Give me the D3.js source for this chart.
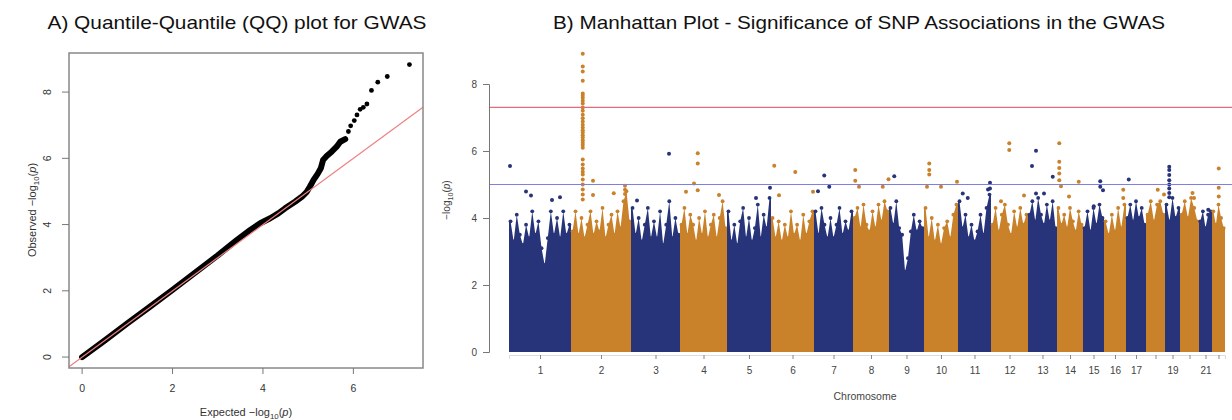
<!DOCTYPE html>
<html>
<head>
<meta charset="utf-8">
<style>
body{
    margin: 0;
    background: #fff;
}
svg{ display: block; }
text{
    font-family: "Liberation Sans", Arial, sans-serif;
}
</style>
</head>
<body>
<svg id="chart" width="1232" height="420"></svg>

<script src="https://cdn.jsdelivr.net/npm/d3@7"></script>
<script>
// ---------- data ----------
// QQ plot: dense band of points (expected, observed -log10 p)
var qqBand = [[0,0],[0.5,0.5],[1,1.02],[1.5,1.52],[2,2.03],[2.5,2.55],[3,3.07],[3.42,3.53],
    [3.72,3.84],[3.94,4.04],[4.16,4.19],[4.34,4.34],[4.49,4.49],[4.6,4.59],[4.71,4.69],
    [4.86,4.84],[4.97,4.99],[5.04,5.15],[5.12,5.35],[5.21,5.53],[5.28,5.7],[5.33,5.95],
    [5.41,6.07],[5.52,6.2],[5.63,6.35],[5.71,6.5],[5.82,6.58]];
// QQ plot: individual points in the upper tail
var qqTail = [[4.97,4.99],[5.04,5.15],[5.12,5.35],[5.21,5.53],[5.28,5.7],[5.33,5.95],[5.41,6.07],
    [5.52,6.2],[5.63,6.35],[5.71,6.5],[5.82,6.58],[5.89,6.81],[5.94,6.98],[6.02,7.14],
    [6.08,7.31],[6.15,7.48],[6.22,7.54],[6.3,7.64],[6.4,8.05],[6.54,8.3],[6.75,8.47],[7.24,8.83]];
var qqTicksX = [0, 2, 4, 6];
var qqTicksY = [0, 2, 4, 6, 8];

// Manhattan plot
var chromosomes = ["1","2","3","4","5","6","7","8","9","10","11","12","13","14","15","16","17","18","19","20","21","22"];
var chrLabels   = ["1","2","3","4","5","6","7","8","9","10","11","12","13","14","15","16","17","","19","","21",""];
// span of genotyped SNPs per chromosome (Mb)
var chrLength = [248,240,196,188,176,172,156,144,140,136,132,148,116,104,84,88,80,76,60,76,52,52];
// upper edge of the dense cloud of SNPs along each chromosome (-log10 p)
var chrTop = [
    [3.9,3.3,4.1,3.5,3.2,3.8,3.4,4.2,3.5,3.9,3.1,2.6,3.4,4.2,3.5,4.0,3.4,4.2,3.5,3.8],
    [3.6,4.2,3.5,4.0,3.4,3.8,4.2,3.5,3.9,3.6,4.3,3.4,3.8,4.1,3.5,4.2,3.7,4.5,4.8,3.9],
    [4.3,3.5,4.0,3.3,3.8,4.3,3.4,3.9,3.4,4.2,3.2,3.8,4.5,3.4,4.0,3.5],
    [3.8,4.3,3.5,4.1,3.8,3.3,4.0,3.5,4.2,3.4,3.8,4.1,3.4,4.0,4.5,3.7],
    [4.2,3.3,3.8,3.2,3.9,4.3,3.4,4.0,3.3,3.7,4.4,3.4,4.1,3.7,4.6],
    [4.0,3.4,3.9,3.3,3.8,3.4,4.2,3.5,3.8,3.3,4.1,3.5,3.9,4.2],
    [4.2,3.5,4.3,3.8,3.4,4.0,3.4,3.8,4.3,3.5,3.9,3.6,4.2],
    [4.0,4.3,3.7,4.4,3.8,3.6,4.2,3.7,4.4,3.9,4.5,4.2],
    [4.3,3.8,4.5,3.7,3.5,2.4,2.8,3.6,4.1,3.6,3.9,3.7],
    [4.3,3.4,4.0,3.3,3.8,3.2,3.7,3.9,3.4,4.1,4.4],
    [4.5,3.7,4.1,3.4,3.8,3.3,3.6,4.1,3.5,4.3,4.7],
    [3.8,4.3,3.6,4.1,4.4,3.8,3.5,4.2,3.7,4.3,3.8,4.1],
    [4.1,4.5,3.9,4.6,4.1,3.8,4.4,3.9,4.5,3.7],
    [4.3,3.8,4.1,3.7,4.3,3.9,3.6,4.2,3.8],
    [3.7,4.2,3.6,4.3,3.8,4.4,4.0],
    [3.9,3.5,4.1,3.6,4.3,3.7,4.4],
    [4.0,4.4,3.9,4.5,4.0,4.3,3.8],
    [4.1,4.5,3.9,4.4,4.5,4.1],
    [4.4,3.9,4.6,4.0,4.3],
    [4.1,4.5,4.0,4.6,4.3,3.9],
    [3.9,4.2,3.7,4.1,4.2],
    [4.2,3.8,4.4,4.0,3.7]
];
// SNPs standing out above the cloud: [chromosome index, position (Mb), -log10 p]
var topSnps = [
    [0,4,5.55],[0,68,4.79],[0,88,4.67],[0,172,4.54],[0,204,4.62],
    [1,47,8.9],[1,47,8.52],[1,47,8.37],[1,47,8.1],[1,47,7.72],[1,47,7.65],[1,47,7.58],[1,47,7.5],
    [1,47,7.42],[1,47,7.3],[1,47,7.2],[1,47,7.08],[1,47,6.98],[1,47,6.88],[1,47,6.78],[1,47,6.7],
    [1,47,6.62],[1,47,6.55],[1,47,6.47],[1,47,6.4],[1,47,6.32],[1,47,6.25],[1,47,6.18],[1,47,6.1],
    [1,47,5.75],[1,47,5.6],[1,47,5.48],[1,47,5.38],[1,47,5.3],[1,47,5.15],[1,47,5.0],[1,47,4.85],
    [1,47,4.7],[1,47,4.55],
    [1,88,5.11],[1,88,4.69],[1,171,4.74],[1,216,4.96],[1,216,4.84],[1,216,4.72],
    [2,152,5.92],[2,24,4.52],
    [3,71,5.93],[3,71,5.63],[3,56,5.03],[3,71,4.83],[3,24,4.78],[3,156,4.69],
    [4,116,4.6],[4,172,4.9],
    [5,13,5.56],[5,97,5.37],[5,32,4.68],[5,168,4.78],
    [6,41,5.27],[6,61,4.93],[6,16,4.8],
    [7,9,5.43],[7,9,5.11],[7,24,4.93],[7,119,4.93],[7,142,5.16],
    [8,21,5.25],
    [9,21,5.63],[9,21,5.43],[9,21,5.3],[9,12,4.93],[9,68,4.93],[9,132,5.08],
    [10,19,4.73],[10,39,4.6],[10,128,5.05],[10,128,4.88],[10,120,4.85],
    [11,73,6.23],[11,73,6.03],[11,132,4.67],[11,40,4.5],
    [12,32,6.01],[12,16,5.55],[12,99,5.23],[12,32,4.73],[12,64,4.73],
    [13,9,6.23],[13,9,5.68],[13,9,5.49],[13,9,5.33],[13,9,5.13],[13,16,4.95],[13,87,5.08],[13,48,4.64],
    [14,69,5.1],[14,69,4.93],[14,80,4.83],[14,43,4.35],
    [15,77,4.84],[15,77,4.6],
    [16,11,5.15],
    [17,47,4.84],[17,72,4.7],
    [18,17,5.53],[18,17,5.43],[18,17,5.28],[18,17,5.13],[18,17,5.0],[18,17,4.88],[18,17,4.75],[18,17,4.62],
    [19,50,4.75],[19,56,4.6],
    [20,37,4.25],
    [21,27,5.48],[21,27,4.9],[21,27,4.64]
];
var genomeWide = 7.3;   // 5e-8
var suggestive = 5;     // 1e-5
var mhTicksY = [0, 2, 4, 6, 8];

var navy = '#27347A';
var orange = '#C9812A';

var svg = d3.select('#chart');
svg.append('rect').attr('width', 1232).attr('height', 420).attr('fill', '#fff');

// small helper for "<prefix>-log10(p)" axis titles
function logLabel(sel, prefix, size) {
    sel.append('tspan').text(prefix + '\u2212log');
    sel.append('tspan').attr('font-size', (size * 0.72) + 'px').attr('dy', 3).text('10');
    sel.append('tspan').attr('dy', -3).text('(');
    sel.append('tspan').attr('font-style', 'italic').text('p');
    sel.append('tspan').text(')');
}

// ---------- A) QQ plot ----------
function qqPlot() {
    var x = d3.scaleLinear().domain([-0.29, 7.54]).range([69, 423]);
    var y = d3.scaleLinear().domain([-0.33, 9.18]).range([368, 53]);

    svg.append('text')
        .attr('x', 237).attr('y', 29)
        .attr('text-anchor', 'middle')
        .attr('font-size', '19px')
        .attr('textLength', 379).attr('lengthAdjust', 'spacingAndGlyphs')
        .attr('fill', '#111')
        .text('A) Quantile-Quantile (QQ) plot for GWAS');

    svg.append('clipPath').attr('id', 'qqclip')
        .append('rect').attr('x', 69).attr('y', 53).attr('width', 354).attr('height', 315);

    var g = svg.append('g').attr('clip-path', 'url(#qqclip)');

    // dense part of the point cloud
    var line = d3.line().x(function (d) { return x(d[0]); }).y(function (d) { return y(d[1]); });
    g.append('path').datum(qqBand)
        .attr('d', line)
        .attr('fill', 'none')
        .attr('stroke', '#000')
        .attr('stroke-width', 6)
        .attr('stroke-linecap', 'round')
        .attr('stroke-linejoin', 'round');

    g.selectAll('.qqpt').data(qqTail)
        .enter().append('circle')
        .attr('class', 'qqpt')
        .attr('cx', function (d) { return x(d[0]); })
        .attr('cy', function (d) { return y(d[1]); })
        .attr('r', 2.4)
        .attr('fill', '#000');

    // y = x reference line
    var dom = x.domain();
    g.append('line')
        .attr('x1', x(dom[0])).attr('y1', y(dom[0]))
        .attr('x2', x(dom[1])).attr('y2', y(dom[1]))
        .attr('stroke', '#EE8080')
        .attr('stroke-width', 1.2);

    // box
    svg.append('rect')
        .attr('x', 69).attr('y', 53).attr('width', 354).attr('height', 315)
        .attr('fill', 'none').attr('stroke', '#888').attr('stroke-width', 1.5);

    // x axis
    qqTicksX.forEach(function (t) {
        svg.append('line').attr('x1', x(t)).attr('x2', x(t)).attr('y1', 368).attr('y2', 374)
            .attr('stroke', '#777');
        svg.append('text').attr('x', x(t)).attr('y', 392)
            .attr('text-anchor', 'middle').attr('font-size', '10.5px').attr('fill', '#333')
            .text(t);
    });
    // y axis (labels turned like base R)
    qqTicksY.forEach(function (t) {
        svg.append('line').attr('x1', 62).attr('x2', 69).attr('y1', y(t)).attr('y2', y(t))
            .attr('stroke', '#777');
        svg.append('text')
            .attr('transform', 'translate(51,' + y(t) + ') rotate(-90)')
            .attr('text-anchor', 'middle').attr('font-size', '10.5px').attr('fill', '#333')
            .text(t);
    });

    var xt = svg.append('text').attr('x', 246).attr('y', 416)
        .attr('text-anchor', 'middle').attr('font-size', '11px').attr('fill', '#333');
    logLabel(xt, 'Expected  ', 11);

    var yt = svg.append('text').attr('transform', 'translate(36,210) rotate(-90)')
        .attr('text-anchor', 'middle').attr('font-size', '11px').attr('fill', '#333');
    logLabel(yt, 'Observed  ', 11);
}

// ---------- B) Manhattan plot ----------
function manhattan() {
    var offsets = [];
    var acc = 0;
    chrLength.forEach(function (l) { offsets.push(acc); acc += l; });

    var x = d3.scaleLinear().domain([0, acc]).range([509, 1225]);
    var y = d3.scaleLinear().domain([0, 8]).range([352, 84]);

    svg.append('text')
        .attr('x', 859).attr('y', 29)
        .attr('text-anchor', 'middle')
        .attr('font-size', '19px')
        .attr('textLength', 612).attr('lengthAdjust', 'spacingAndGlyphs')
        .attr('fill', '#111')
        .text('B) Manhattan Plot - Significance of SNP Associations in the GWAS');

    var area = d3.area()
        .x(function (d) { return x(d[0]); })
        .y0(y(0))
        .y1(function (d) { return y(d[1]); });

    chromosomes.forEach(function (c, i) {
        var len = chrLength[i], off = offsets[i], top = chrTop[i], n = top.length;
        var col = i % 2 === 0 ? navy : orange;
        var pts = top.map(function (h, k) { return [off + (k + 0.5) * len / n, h]; });
        var poly = [[off, top[0]]].concat(pts).concat([[off + len, top[n - 1]]]);

        svg.append('path').datum(poly)
            .attr('d', area)
            .attr('fill', col);
        svg.selectAll('.edge' + i).data(pts)
            .enter().append('circle')
            .attr('class', 'edge' + i)
            .attr('cx', function (d) { return x(d[0]); })
            .attr('cy', function (d) { return y(d[1]); })
            .attr('r', 1.9)
            .attr('fill', col);
    });

    svg.selectAll('.snp').data(topSnps)
        .enter().append('circle')
        .attr('class', 'snp')
        .attr('cx', function (d) { return x(offsets[d[0]] + d[1]); })
        .attr('cy', function (d) { return y(d[2]); })
        .attr('r', 2)
        .attr('fill', function (d) { return d[0] % 2 === 0 ? navy : orange; });

    // threshold lines
    svg.append('line').attr('x1', 489).attr('x2', 1232)
        .attr('y1', y(genomeWide)).attr('y2', y(genomeWide))
        .attr('stroke', '#E46C78').attr('stroke-width', 1.2);
    svg.append('line').attr('x1', 489).attr('x2', 1232)
        .attr('y1', y(suggestive)).attr('y2', y(suggestive))
        .attr('stroke', '#7E7EE4').attr('stroke-width', 1.2);

    // y axis
    var ya = svg.append('g')
        .attr('transform', 'translate(489,0)')
        .call(d3.axisLeft(y).tickValues(mhTicksY).tickSize(6).tickPadding(6));
    ya.select('.domain').attr('stroke', '#777');
    ya.selectAll('.tick line').attr('stroke', '#777');
    ya.selectAll('text').attr('font-size', '10px').attr('fill', '#444')
        .attr('font-family', '"Liberation Sans", Arial, sans-serif');

    // x axis at chromosome centres
    var centres = chromosomes.map(function (c, i) { return offsets[i] + chrLength[i] / 2; });
    var xa = svg.append('g')
        .attr('transform', 'translate(0,355)')
        .call(d3.axisBottom(x).tickValues(centres).tickSize(4).tickPadding(8)
            .tickFormat(function (d, i) { return chrLabels[i]; }));
    xa.select('.domain').attr('stroke', '#ddd');
    xa.selectAll('.tick line').attr('stroke', '#888');
    xa.selectAll('text').attr('font-size', '10px').attr('fill', '#444')
        .attr('font-family', '"Liberation Sans", Arial, sans-serif');

    svg.append('text').attr('x', 865).attr('y', 400)
        .attr('text-anchor', 'middle').attr('font-size', '10.5px').attr('fill', '#444')
        .text('Chromosome');

    var yt = svg.append('text').attr('transform', 'translate(450,200) rotate(-90)')
        .attr('text-anchor', 'middle').attr('font-size', '10px').attr('fill', '#444');
    logLabel(yt, '', 10);
}

qqPlot();
manhattan();
</script>
</body>
</html>
